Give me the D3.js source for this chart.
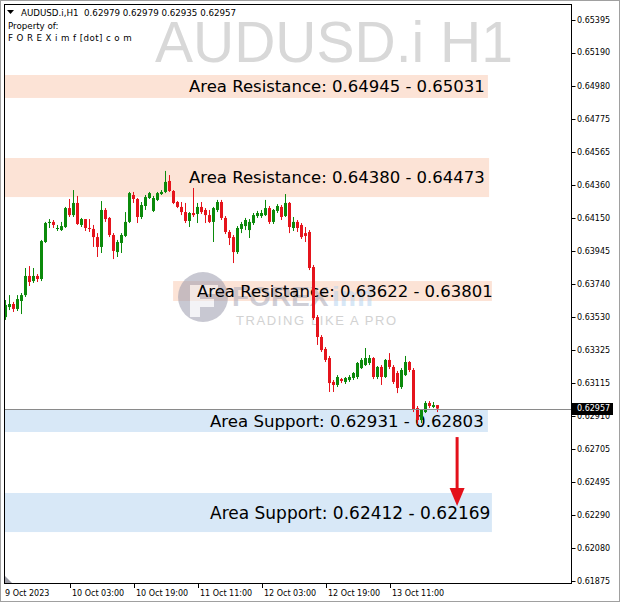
<!DOCTYPE html>
<html><head><meta charset="utf-8">
<script src="https://cdn.jsdelivr.net/npm/d3@7/dist/d3.min.js"></script>
<style>html,body{margin:0;padding:0;background:#fff;}svg{display:block;}</style>
</head><body>
<script>
// ---------- DATA ----------
const opens  = [0.63531,0.63594,0.63613,0.63582,0.63632,0.63669,0.63789,0.63757,0.63789,0.63770,
0.64002,0.64121,0.64128,0.64084,0.64077,0.64096,0.64215,0.64171,0.64247,0.64109,
0.64146,0.64090,0.64084,0.64033,0.63971,0.64203,0.64153,0.64046,0.63939,0.63996,
0.64040,0.64128,0.64297,0.64272,0.64159,0.64228,0.64278,0.64197,0.64266,0.64303,
0.64316,0.64385,0.64322,0.64253,0.64222,0.64190,0.64134,0.64184,0.64178,0.64222,
0.64203,0.64171,0.64128,0.64203,0.64253,0.64153,0.64065,0.64033,0.63939,0.64084,
0.64102,0.64077,0.64121,0.64165,0.64165,0.64171,0.64215,0.64128,0.64197,0.64222,
0.64165,0.64247,0.64090,0.64128,0.64109,0.64058,0.64065,0.63845,0.63531,0.63406,
0.63331,0.63274,0.63124,0.63105,0.63142,0.63124,0.63136,0.63149,0.63155,0.63211,
0.63230,0.63243,0.63274,0.63155,0.63218,0.63155,0.63262,0.63218,0.63180,0.63092,
0.63167,0.63249,0.63199,0.62960,0.62885,0.62935,0.62992,0.62967,0.62979];
const highs  = [0.63638,0.63669,0.63626,0.63669,0.63682,0.63839,0.63851,0.63839,0.63801,0.64015,
0.64128,0.64146,0.64140,0.64109,0.64128,0.64222,0.64272,0.64328,0.64291,0.64153,
0.64146,0.64146,0.64109,0.64058,0.64259,0.64215,0.64159,0.64058,0.64015,0.64058,
0.64190,0.64316,0.64316,0.64278,0.64253,0.64297,0.64316,0.64291,0.64316,0.64328,
0.64448,0.64422,0.64328,0.64259,0.64253,0.64247,0.64190,0.64341,0.64247,0.64253,
0.64215,0.64203,0.64222,0.64266,0.64266,0.64165,0.64077,0.64046,0.64102,0.64128,
0.64153,0.64146,0.64184,0.64197,0.64203,0.64266,0.64228,0.64209,0.64240,0.64234,
0.64303,0.64253,0.64159,0.64140,0.64121,0.64096,0.64077,0.63858,0.63544,0.63418,
0.63343,0.63287,0.63136,0.63167,0.63149,0.63155,0.63167,0.63186,0.63249,0.63274,
0.63337,0.63293,0.63280,0.63224,0.63230,0.63268,0.63305,0.63230,0.63193,0.63211,
0.63287,0.63255,0.63211,0.62973,0.62954,0.63004,0.63004,0.62998,0.62979];
const lows   = [0.63513,0.63575,0.63563,0.63569,0.63550,0.63657,0.63726,0.63745,0.63751,0.63757,
0.63996,0.64090,0.64090,0.64071,0.64071,0.64090,0.64159,0.64159,0.64109,0.64096,
0.64071,0.64065,0.63971,0.63908,0.63933,0.64128,0.64033,0.63895,0.63908,0.63933,
0.64033,0.64121,0.64247,0.64121,0.64146,0.64203,0.64272,0.64190,0.64259,0.64297,
0.64309,0.64316,0.64240,0.64215,0.64171,0.64121,0.64096,0.64159,0.64121,0.64178,
0.64121,0.64121,0.64002,0.64190,0.64140,0.64052,0.63983,0.63870,0.63927,0.64058,
0.64077,0.64027,0.64109,0.64153,0.64153,0.64165,0.64115,0.64115,0.64184,0.64140,
0.64159,0.64058,0.64071,0.64065,0.64021,0.64002,0.63826,0.63513,0.63356,0.63312,
0.63249,0.63061,0.63061,0.63092,0.63117,0.63111,0.63124,0.63136,0.63142,0.63205,
0.63224,0.63230,0.63142,0.63142,0.63105,0.63149,0.63205,0.63111,0.63054,0.63080,
0.63161,0.63186,0.62935,0.62860,0.62866,0.62929,0.62960,0.62960,0.62935];
const closes = [0.63607,0.63613,0.63582,0.63644,0.63669,0.63789,0.63751,0.63789,0.63770,0.64008,
0.64121,0.64128,0.64109,0.64090,0.64102,0.64215,0.64171,0.64247,0.64115,0.64146,
0.64090,0.64084,0.64033,0.63971,0.64203,0.64146,0.64046,0.63946,0.64002,0.64046,
0.64128,0.64309,0.64272,0.64159,0.64234,0.64284,0.64309,0.64278,0.64309,0.64316,
0.64379,0.64322,0.64247,0.64222,0.64190,0.64134,0.64184,0.64171,0.64222,0.64190,
0.64171,0.64128,0.64215,0.64253,0.64153,0.64065,0.64027,0.63939,0.64090,0.64115,
0.64140,0.64128,0.64171,0.64184,0.64184,0.64215,0.64128,0.64203,0.64228,0.64159,
0.64247,0.64096,0.64128,0.64090,0.64033,0.64040,0.63839,0.63525,0.63406,0.63324,
0.63262,0.63117,0.63105,0.63155,0.63130,0.63149,0.63155,0.63180,0.63243,0.63262,
0.63274,0.63274,0.63155,0.63218,0.63155,0.63262,0.63218,0.63124,0.63086,0.63199,
0.63249,0.63199,0.62948,0.62885,0.62948,0.62992,0.62973,0.62979,0.62957];

const priceTicks = ["0.65395","0.65190","0.64980","0.64775","0.64565","0.64360","0.64150","0.63945",
"0.63740","0.63530","0.63325","0.63115","0.62910","0.62705","0.62495","0.62290","0.62080","0.61875"];
const timeTickIdx = [0,16,32,48,64,80,96];
const timeTickLabels = ["9 Oct 2023","10 Oct 03:00","10 Oct 19:00","11 Oct 11:00","12 Oct 03:00","12 Oct 19:00","13 Oct 11:00"];

const zoneLabels = ["Area Resistance: 0.64945 - 0.65031","Area Resistance: 0.64380 - 0.64473",
"Area Resistance: 0.63622 - 0.63801","Area Support: 0.62931 - 0.62803","Area Support: 0.62412 - 0.62169"];
const zoneTop    = [0.65050,0.64529,0.63757,0.62948,0.62427];
const zoneBottom = [0.64906,0.64284,0.63632,0.62810,0.62182];
const zoneStart  = [-2,-2,41.9,-2,-2];
const zoneEnd    = [120.6,120.9,121.6,120.6,121.6];
const zoneKind   = ["res","res","res","sup","sup"];

const symbolTitle = "AUDUSD.i,H1  0.62979 0.62979 0.62935 0.62957";
const lastPrice = 0.62957;
const arrowIdx = 112.9, arrowFrom = 0.62778, arrowTo = 0.62345;

// ---------- LAYOUT ----------
const W=620,H=606;
const plot={l:4,r:571,t:4,b:583};
const labelX=[189,189,197,210,210];
const labelSize=[16.5,16.5,16.5,16.6,17];

const svg=d3.select("body").append("svg").attr("width",W).attr("height",H)
  .style("font-family","'DejaVu Sans',sans-serif");

const x=d3.scaleLinear().domain([0,1]).range([5.5,9.5]);
const y=d3.scaleLinear().domain([0.61875,0.65395]).range([581,20]);

// outer frame
svg.append("rect").attr("x",0.5).attr("y",0.5).attr("width",W-1).attr("height",H-5)
  .attr("fill","#fff").attr("stroke","#a0a0a0");

svg.append("clipPath").attr("id","pc").append("rect")
  .attr("x",plot.l).attr("y",plot.t).attr("width",plot.r-plot.l).attr("height",plot.b-plot.t);
const g=svg.append("g").attr("clip-path","url(#pc)");

// big watermark symbol
g.append("text").attr("x",155).attr("y",62).text("AUDUSD.i H1")
  .style("font-family","'Liberation Sans',Arial,sans-serif").style("font-size","57px").attr("fill","#d8d8d8");

// zones
const zi=d3.range(zoneLabels.length);
g.selectAll("rect.zone").data(zi).join("rect").attr("class","zone")
  .attr("x",i=>x(zoneStart[i])).attr("width",i=>x(zoneEnd[i])-x(zoneStart[i]))
  .attr("y",i=>y(zoneTop[i])).attr("height",i=>y(zoneBottom[i])-y(zoneTop[i]))
  .attr("fill",i=>zoneKind[i]==="res"?"#fce3d6":"#d8e8f7");

// logo watermark
const logo=g.append("g").attr("opacity",0.55);
logo.append("circle").attr("cx",203).attr("cy",297).attr("r",25).attr("fill","#9c9cae");
logo.append("path").attr("d","M190,285 h28 v9 h-18 v5 h14 v8 h-14 v10 h-10 z").attr("fill","#fff").attr("opacity",0.8);
logo.append("text").attr("x",232).attr("y",306).text("FOREX")
  .style("font-family","'Liberation Sans',Arial,sans-serif").style("font-weight","bold").style("font-size","28px").attr("fill","#a8a8b8");
logo.append("text").attr("x",332).attr("y",306).text("imf")
  .style("font-family","'Liberation Sans',Arial,sans-serif").style("font-weight","bold").style("font-size","28px").attr("fill","#b8d4f0");
g.append("text").attr("x",236).attr("y",325).text("TRADING LIKE A PRO")
  .style("font-family","'Liberation Sans',Arial,sans-serif").style("font-size","13px").style("letter-spacing","1.6px").attr("fill","#d2d2d2");

// zone labels
g.selectAll("text.zl").data(zi).join("text").attr("class","zl")
  .attr("x",i=>labelX[i]).attr("y",i=>(y(zoneTop[i])+y(zoneBottom[i]))/2)
  .attr("dy","0.36em").text(i=>zoneLabels[i]).style("font-size",i=>labelSize[i]+"px").attr("fill","#000");

// candles
const idx=d3.range(opens.length);
const up=i=>closes[i]>=opens[i];
g.selectAll("line.wick").data(idx).join("line").attr("class","wick")
  .attr("x1",i=>x(i)).attr("x2",i=>x(i)).attr("y1",i=>y(highs[i])).attr("y2",i=>y(lows[i]))
  .attr("stroke",i=>up(i)?"#0b8a0b":"#e5141c").attr("stroke-width",1);
g.selectAll("rect.body").data(idx).join("rect").attr("class","body")
  .attr("x",i=>x(i)-1.5).attr("width",3)
  .attr("y",i=>y(Math.max(opens[i],closes[i])))
  .attr("height",i=>Math.max(1,Math.abs(y(opens[i])-y(closes[i]))))
  .attr("fill",i=>up(i)?"#0b8a0b":"#e5141c");

// last price line
g.append("line").attr("x1",plot.l).attr("x2",plot.r).attr("y1",Math.round(y(lastPrice))+0.5).attr("y2",Math.round(y(lastPrice))+0.5)
  .attr("stroke","#8a8a8a").attr("stroke-width",1);

// arrow
const ax=x(arrowIdx), ay1=y(arrowFrom), ay2=y(arrowTo);
g.append("line").attr("x1",ax).attr("x2",ax).attr("y1",ay1).attr("y2",ay2-14).attr("stroke","#e3101a").attr("stroke-width",3);
g.append("path").attr("d",`M${ax-7.5},${ay2-18} L${ax+7.5},${ay2-18} L${ax},${ay2} Z`).attr("fill","#e3101a");

// shift marker
svg.append("path").attr("d",`M${plot.l+1},${plot.b-7} L${plot.l+1},${plot.b} L${plot.l+8},${plot.b} Z`).attr("fill","#9a9aa4");

// plot border
svg.append("rect").attr("x",plot.l+0.5).attr("y",plot.t+0.5).attr("width",plot.r-plot.l).attr("height",plot.b-plot.t)
  .attr("fill","none").attr("stroke","#000");

// header
svg.append("path").attr("d","M7,10 L14,10 L10.5,14 Z").attr("fill","#000");
svg.append("text").attr("x",21).attr("y",16).attr("xml:space","preserve").text(symbolTitle).style("font-size","8.7px").style("white-space","pre");
svg.append("text").attr("x",8).attr("y",29).text("Property of:").style("font-size","8.7px");
svg.append("text").attr("x",8).attr("y",41).text("F O R E X i m f [dot] c o m").style("font-size","8.7px").style("letter-spacing","0.4px");

// price axis
const ya=svg.append("g");
ya.selectAll("line").data(priceTicks).join("line")
  .attr("x1",plot.r+0.5).attr("x2",plot.r+4.5).attr("y1",d=>Math.round(y(+d))+0.5).attr("y2",d=>Math.round(y(+d))+0.5).attr("stroke","#000");
ya.selectAll("text").data(priceTicks).join("text")
  .attr("x",plot.r+6).attr("y",d=>y(+d)).attr("dy","0.35em").text(d=>d).style("font-size","8px");

// last price box
ya.append("rect").attr("x",plot.r+1).attr("y",Math.round(y(lastPrice))-6).attr("width",41).attr("height",12).attr("fill","#000");
ya.append("text").attr("x",plot.r+6).attr("y",y(lastPrice)).attr("dy","0.35em").text(lastPrice.toFixed(5)).style("font-size","8px").attr("fill","#fff");

// time axis
const xa=svg.append("g");
xa.selectAll("line").data(timeTickIdx.filter((d,i)=>i>0)).join("line")
  .attr("x1",d=>Math.round(x(d))+0.5).attr("x2",d=>Math.round(x(d))+0.5).attr("y1",plot.b).attr("y2",plot.b+5).attr("stroke","#000");
xa.selectAll("text").data(timeTickIdx).join("text")
  .attr("x",(d,i)=>i===0?plot.l+1:Math.round(x(d))+2).attr("y",plot.b+13).text((d,i)=>timeTickLabels[i]).style("font-size","8px");
</script>
</body></html>
